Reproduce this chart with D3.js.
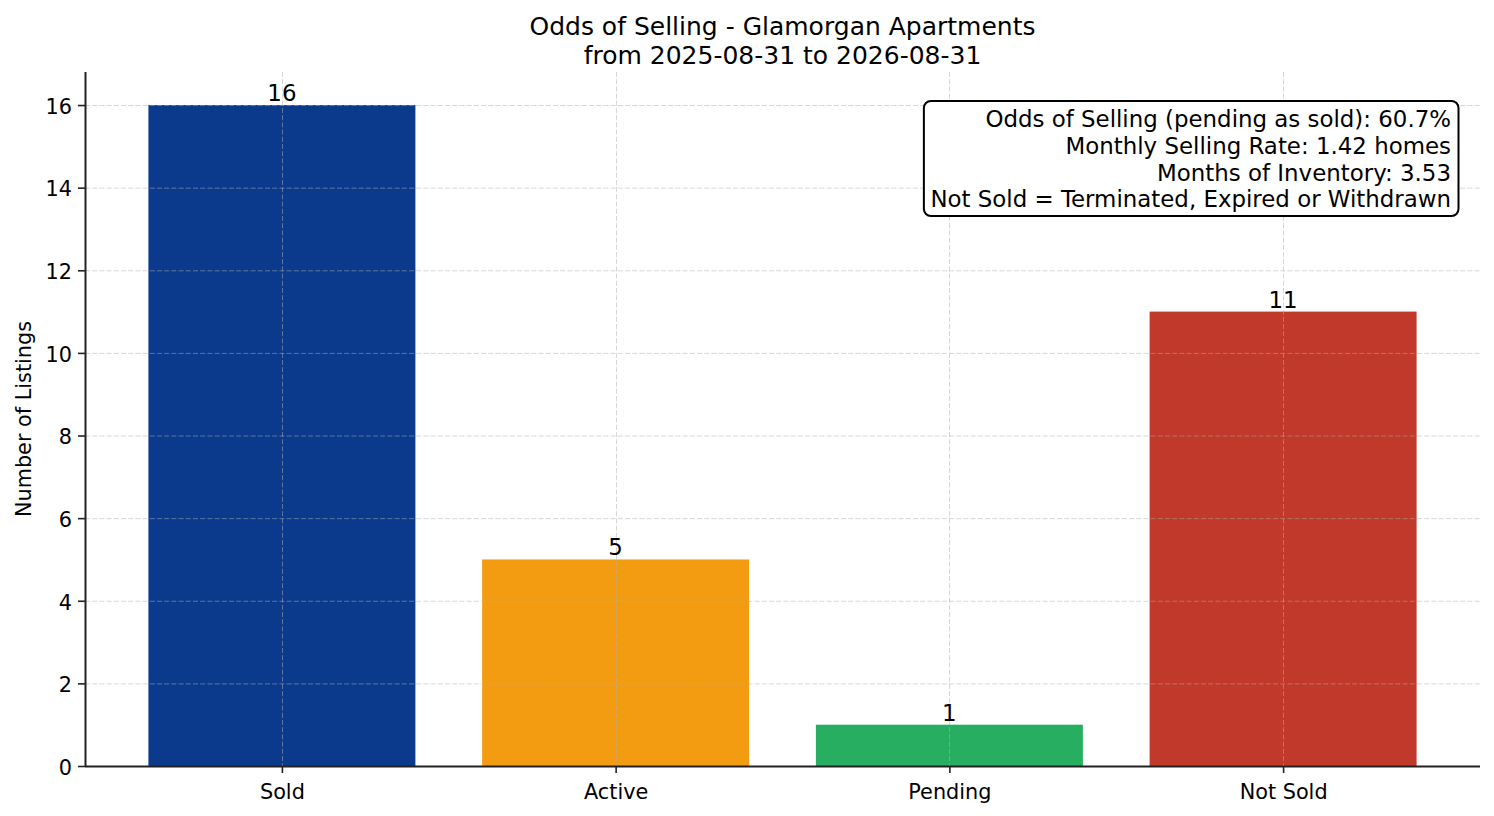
<!DOCTYPE html>
<html>
<head>
<meta charset="utf-8">
<script src="https://cdn.jsdelivr.net/npm/d3@7"></script>
<style>
  html, body { margin: 0; padding: 0; background: #fff; }
  svg { display: block; font-family: "DejaVu Sans", sans-serif; }
</style>
</head>
<body>
<div id="chart"></div>
<script>
"use strict";

const categories = ["Sold", "Active", "Pending", "Not Sold"];
const counts = [16, 5, 1, 11];
const barColors = ["#0b3a8c", "#f39c12", "#27ae60", "#c0392b"];
const yTicks = [0, 2, 4, 6, 8, 10, 12, 14, 16];
const titleLines = ["Odds of Selling - Glamorgan Apartments", "from 2025-08-31 to 2026-08-31"];
const infoLines = [
  "Odds of Selling (pending as sold): 60.7%",
  "Monthly Selling Rate: 1.42 homes",
  "Months of Inventory: 3.53",
  "Not Sold = Terminated, Expired or Withdrawn"
];

const W = 1494, H = 816;
// plot area edges (note: "top" clashes with window.top)
const plotL = 85, plotR = 1480, plotT = 72, plotB = 766;

const svg = d3.select("#chart").append("svg")
  .attr("width", W)
  .attr("height", H);

// x in bar-index units, with matplotlib-like margins
const x = d3.scaleLinear().domain([-0.59, 3.59]).range([plotL, plotR]);
const y = d3.scaleLinear().domain([0, 16.8]).range([plotB, plotT]);
const barW = x(0.8) - x(0);

// bars
svg.append("g")
  .selectAll("rect")
  .data(counts)
  .enter()
  .append("rect")
  .attr("x", (d, i) => x(i) - barW / 2)
  .attr("y", (d) => y(d))
  .attr("width", barW)
  .attr("height", (d) => y(0) - y(d))
  .attr("fill", (d, i) => barColors[i]);

// grid (drawn over the bars, like the reference)
const grid = svg.append("g")
  .attr("stroke", "#b0b0b0")
  .attr("stroke-opacity", 0.5)
  .attr("stroke-width", 1)
  .attr("stroke-dasharray", "5,2.2");

grid.selectAll("line.h")
  .data(yTicks)
  .enter()
  .append("line")
  .attr("x1", plotL)
  .attr("x2", plotR)
  .attr("y1", (d) => y(d) + 0.5)
  .attr("y2", (d) => y(d) + 0.5);

grid.selectAll("line.v")
  .data(categories)
  .enter()
  .append("line")
  .attr("x1", (d, i) => Math.round(x(i)) + 0.5)
  .attr("x2", (d, i) => Math.round(x(i)) + 0.5)
  .attr("y1", plotT)
  .attr("y2", plotB);

// y axis
const yAxis = svg.append("g")
  .attr("transform", `translate(${plotL},0)`)
  .call(d3.axisLeft(y).tickValues(yTicks).tickSize(7).tickPadding(6).tickFormat(d3.format("d")));
yAxis.select(".domain").attr("stroke", "#222").attr("stroke-width", 2)
  .attr("d", `M0.5,${plotB}V${plotT}`);
yAxis.selectAll(".tick line").attr("stroke", "#222").attr("stroke-width", 1.6);
yAxis.selectAll(".tick text")
  .attr("font-size", "20.8px")
  .attr("font-family", "DejaVu Sans")
  .attr("fill", "#000")
  .attr("dy", "0.4em");

// x axis
const xAxis = svg.append("g")
  .attr("transform", `translate(0,${plotB})`)
  .call(d3.axisBottom(x).tickValues([0, 1, 2, 3]).tickSize(7).tickPadding(11)
    .tickFormat((d) => categories[d]));
xAxis.select(".domain").attr("stroke", "#222").attr("stroke-width", 2)
  .attr("d", `M${plotL},0.5H${plotR}`);
xAxis.selectAll(".tick line").attr("stroke", "#222").attr("stroke-width", 1.6);
xAxis.selectAll(".tick text")
  .attr("font-size", "20.8px")
  .attr("font-family", "DejaVu Sans")
  .attr("fill", "#000");

// value labels
svg.append("g")
  .selectAll("text")
  .data(counts)
  .enter()
  .append("text")
  .attr("x", (d, i) => x(i))
  .attr("y", (d) => y(d) - 4)
  .attr("text-anchor", "middle")
  .attr("font-size", "22.9px")
  .attr("fill", "#000")
  .text((d) => d);

// y label
svg.append("text")
  .attr("transform", `translate(31,${(plotT + plotB) / 2}) rotate(-90)`)
  .attr("text-anchor", "middle")
  .attr("font-size", "20.8px")
  .text("Number of Listings");

// title
svg.append("g")
  .selectAll("text")
  .data(titleLines)
  .enter()
  .append("text")
  .attr("x", (plotL + plotR) / 2)
  .attr("y", (d, i) => 35 + i * 28.5)
  .attr("text-anchor", "middle")
  .attr("font-size", "25px")
  .text((d) => d);

// info box
const info = svg.append("g");
const box = info.append("rect");
const infoText = info.append("g");
infoText.selectAll("text")
  .data(infoLines)
  .enter()
  .append("text")
  .attr("x", 1451)
  .attr("y", (d, i) => 127 + i * 26.8)
  .attr("text-anchor", "end")
  .attr("font-size", "22.9px")
  .text((d) => d);

const bb = infoText.node().getBBox();
const pad = 7;
box.attr("x", bb.x - pad + 0.5)
  .attr("y", 101)
  .attr("width", bb.width + pad * 2)
  .attr("height", 216 - 101)
  .attr("rx", 7)
  .attr("fill", "#fff")
  .attr("stroke", "#000")
  .attr("stroke-width", 2);
</script>
</body>
</html>
